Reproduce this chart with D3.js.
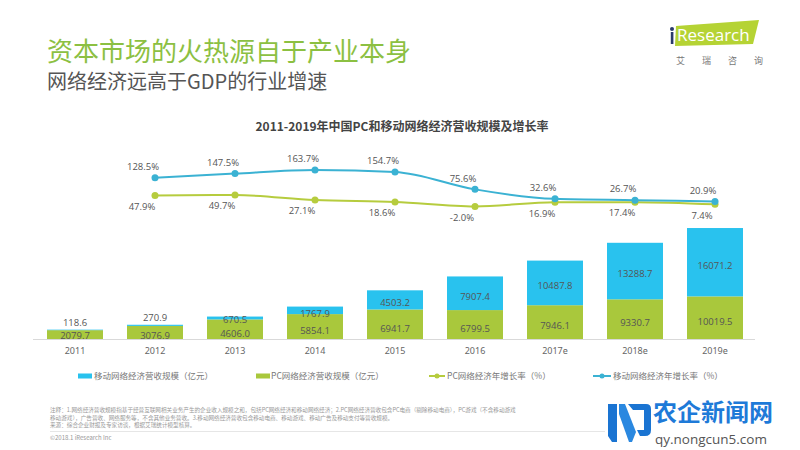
<!DOCTYPE html>
<html><head><meta charset="utf-8">
<script src="https://cdn.jsdelivr.net/npm/d3@7"></script>
<style>
html,body{margin:0;padding:0;background:#fff;}
svg{display:block;font-family:"Noto Sans CJK SC","Noto Sans",sans-serif;}
</style></head>
<body>
<svg id="chart" width="800" height="450"></svg>
<script>
const years = ["2011","2012","2013","2014","2015","2016","2017e","2018e","2019e"];
const pcRevenue = [2079.7, 3076.9, 4606.0, 5854.1, 6941.7, 6799.5, 7946.1, 9330.7, 10019.5];
const mobileRevenue = [118.6, 270.9, 670.5, 1767.9, 4503.2, 7907.4, 10487.8, 13288.7, 16071.2];
const growthYears = ["2012","2013","2014","2015","2016","2017e","2018e","2019e"];
const pcGrowth = [47.9, 49.7, 27.1, 18.6, -2.0, 16.9, 17.4, 7.4];
const mobileGrowth = [128.5, 147.5, 163.7, 154.7, 75.6, 32.6, 26.7, 20.9];
const legendLabels = ["移动网络经济营收规模（亿元）","PC网络经济营收规模（亿元）","PC网络经济年增长率（%）","移动网络经济年增长率（%）"];
const titleText = "资本市场的火热源自于产业本身";
const subtitleText = "网络经济远高于GDP的行业增速";
const chartTitle = "2011-2019年中国PC和移动网络经济营收规模及增长率";
const notes = [
  "注释：1.网络经济营收规模指基于经营互联网相关业务产生的企业收入规模之和，包括PC网络经济和移动网络经济；2.PC网络经济营收包含PC电商（剔除移动电商），PC游戏（不含移动游戏",
  "移动游戏），广告营收、网络服务等，不含其他业务营收。3.移动网络经济营收包含移动电商、移动游戏、移动广告及移动支付等营收规模。",
  "来源：综合企业财报及专家访谈，根据艾瑞统计模型核算。"
];

const C = {mobileBar:"#29c2ee", pcBar:"#a9c83c", mobileLine:"#3bb2d3", pcLine:"#b6cc3e", text:"#555"};
const svg = d3.select("#chart");

// Titles
svg.append("text").attr("x",47).attr("y",61).attr("font-size",26).attr("fill","#8cc042").text(titleText);
svg.append("text").attr("x",47).attr("y",89).attr("font-size",20).attr("fill","#555").text(subtitleText);
svg.append("text").attr("x",402).attr("y",131).attr("text-anchor","middle").attr("font-size",12)
  .attr("font-weight","bold").attr("fill","#444").text(chartTitle);

// iResearch logo
const logo = svg.append("g");
logo.append("path").attr("d","M676,26 L759,20 L753,44 L675,46 Z").attr("fill","#b5d334");
logo.append("circle").attr("cx",672).attr("cy",29).attr("r",2).attr("fill","#2a3a6a");
logo.append("rect").attr("x",670.8).attr("y",32).attr("width",2.6).attr("height",12).attr("fill","#2a3a6a");
logo.append("text").attr("x",677).attr("y",41).attr("font-size",17).attr("fill","#fff")
  .attr("font-family","'Open Sans',sans-serif").text("Research");
["艾","瑞","咨","询"].forEach((c,i)=>{
  logo.append("text").attr("x",676+i*26).attr("y",64).attr("font-size",9).attr("fill","#777").text(c);
});

// Scales
const x = d3.scaleBand().domain(years).range([35,755]).paddingInner(0.3).paddingOuter(0.15);
const yBar = d3.scaleLinear().domain([0,30000]).range([339,211.4]);
const yPct = d3.scaleLinear().domain([0,100]).range([206,184]);

// Bars
const g = svg.append("g");
const stacked = years.map((yr,i)=>({yr, pc:pcRevenue[i], mob:mobileRevenue[i]}));
g.selectAll(".pc").data(stacked).join("rect")
  .attr("x",d=>x(d.yr)).attr("width",x.bandwidth())
  .attr("y",d=>yBar(d.pc)).attr("height",d=>yBar(0)-yBar(d.pc)).attr("fill",C.pcBar);
g.selectAll(".mob").data(stacked).join("rect")
  .attr("x",d=>x(d.yr)).attr("width",x.bandwidth())
  .attr("y",d=>yBar(d.pc+d.mob)).attr("height",d=>yBar(d.pc)-yBar(d.pc+d.mob)).attr("fill",C.mobileBar);

// Axis
const xAxis = d3.axisBottom(x).tickSize(0).tickPadding(9);
const ax = svg.append("g").attr("transform","translate(0,339)").call(xAxis);
ax.select(".domain").attr("stroke","#d9d9d9").attr("d","M33,0.5H755");
ax.selectAll("text").attr("font-size",9).attr("fill","#666").attr("font-family","'Noto Sans',sans-serif");

// Bar labels
const numFont = "'Open Sans','Noto Sans',sans-serif";
g.selectAll(".pcl").data(stacked).join("text")
  .attr("x",d=>x(d.yr)+x.bandwidth()/2)
  .attr("y",d=>Math.min((yBar(0)+yBar(d.pc))/2+4,336))
  .attr("dy","0.35em").attr("text-anchor","middle").attr("font-size",9.5).attr("fill",C.text)
  .attr("font-family",numFont).text(d=>d.pc.toFixed(1));
g.selectAll(".mobl").data(stacked).join("text")
  .attr("x",d=>x(d.yr)+x.bandwidth()/2)
  .attr("y",d=> d.mob<500 ? yBar(d.pc+d.mob)-7 : Math.min((yBar(d.pc)+yBar(d.pc+d.mob))/2+3, (yBar(0)+yBar(d.pc))/2-10))
  .attr("dy","0.35em").attr("text-anchor","middle").attr("font-size",9.5).attr("fill",C.text)
  .attr("font-family",numFont).text(d=>d.mob.toFixed(1));

// Lines
const cx = yr => x(yr)+x.bandwidth()/2;
const mobPts = growthYears.map((yr,i)=>({yr,v:mobileGrowth[i]}));
const pcPts = growthYears.map((yr,i)=>({yr,v:pcGrowth[i]}));
const lineMob = d3.line().x(d=>cx(d.yr)).y(d=>yPct(d.v)).curve(d3.curveMonotoneX);
const linePc = d3.line().x(d=>cx(d.yr)).y(d=>yPct(d.v)).curve(d3.curveMonotoneX);
svg.append("path").datum(pcPts).attr("d",linePc).attr("fill","none").attr("stroke",C.pcLine).attr("stroke-width",2);
svg.append("path").datum(mobPts).attr("d",lineMob).attr("fill","none").attr("stroke",C.mobileLine).attr("stroke-width",2);
svg.selectAll(".pcdot").data(pcPts).join("circle").attr("cx",d=>cx(d.yr)).attr("cy",d=>yPct(d.v)).attr("r",3.5).attr("fill",C.pcLine);
svg.selectAll(".mobdot").data(mobPts).join("circle").attr("cx",d=>cx(d.yr)).attr("cy",d=>yPct(d.v)).attr("r",3.5).attr("fill",C.mobileLine);
svg.selectAll(".pcpl").data(pcPts).join("text").attr("x",d=>cx(d.yr)-13).attr("y",d=>yPct(d.v)+11)
  .attr("dy","0.35em").attr("text-anchor","middle").attr("font-size",9.5).attr("fill",C.text)
  .attr("font-family",numFont).text(d=>d.v.toFixed(1)+"%");
svg.selectAll(".mobpl").data(mobPts).join("text").attr("x",d=>cx(d.yr)-12).attr("y",d=>yPct(d.v)-11)
  .attr("dy","0.35em").attr("text-anchor","middle").attr("font-size",9.5).attr("fill",C.text)
  .attr("font-family",numFont).text(d=>d.v.toFixed(1)+"%");

// Legend
const legY = 376;
const lg = svg.append("g");
lg.append("rect").attr("x",78).attr("y",legY-2.5).attr("width",14).attr("height",5).attr("fill",C.mobileBar);
lg.append("text").attr("x",94).attr("y",legY).attr("dy","0.35em").attr("font-size",8.5).attr("fill","#777").text(legendLabels[0]);
lg.append("rect").attr("x",256).attr("y",legY-2.5).attr("width",14).attr("height",5).attr("fill",C.pcBar);
lg.append("text").attr("x",271).attr("y",legY).attr("dy","0.35em").attr("font-size",8.5).attr("fill","#777").text(legendLabels[1]);
lg.append("line").attr("x1",429).attr("x2",445).attr("y1",legY).attr("y2",legY).attr("stroke",C.pcLine).attr("stroke-width",2);
lg.append("circle").attr("cx",437).attr("cy",legY).attr("r",2.5).attr("fill",C.pcLine);
lg.append("text").attr("x",447).attr("y",legY).attr("dy","0.35em").attr("font-size",8.5).attr("fill","#777").text(legendLabels[2]);
lg.append("line").attr("x1",593).attr("x2",611).attr("y1",legY).attr("y2",legY).attr("stroke",C.mobileLine).attr("stroke-width",2);
lg.append("circle").attr("cx",602).attr("cy",legY).attr("r",2.5).attr("fill",C.mobileLine);
lg.append("text").attr("x",613).attr("y",legY).attr("dy","0.35em").attr("font-size",8.5).attr("fill","#777").text(legendLabels[3]);

// Notes
notes.forEach((t,i)=>{
  svg.append("text").attr("x",50).attr("y",412+i*7.5).attr("font-size",5.6).attr("fill","#999").text(t);
});
svg.append("line").attr("x1",50).attr("x2",605).attr("y1",431.5).attr("y2",431.5).attr("stroke","#e6e6e6");
svg.append("text").attr("x",50).attr("y",440).attr("font-size",6).attr("fill","#999").text("©2018.1 iResearch Inc");

// Watermark
const wm = svg.append("g");
wm.append("path").attr("d","M608,404 L617,404 L617,442 L612,442 L608,436 Z").attr("fill","#1a74d2");
wm.append("path").attr("d","M619,404 L625,404 L636,432 L632,442 L629,442 L619,414 Z").attr("fill","#2a88e0");
wm.append("path").attr("d","M628,404 L646,404 Q651,404 651,409 L651,430 Q651,436 645,436 L640,436 L637,430 L644,430 L644,410 L633,410 Z").attr("fill","#1a74d2");
wm.append("text").attr("x",653).attr("y",421).attr("font-size",24).attr("font-weight","bold").attr("fill","#1e7ad8").text("农企新闻网");
wm.append("text").attr("x",655).attr("y",444).attr("font-size",13.5).attr("fill","#555").attr("font-family","'Open Sans',sans-serif").text("qy.nongcun5.com");
</script>
</body></html>
